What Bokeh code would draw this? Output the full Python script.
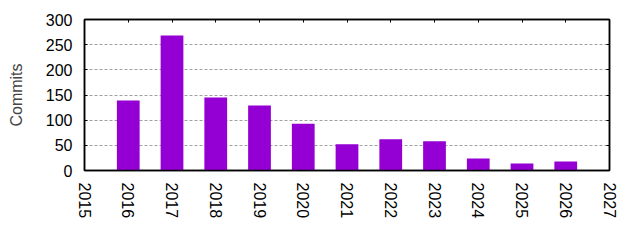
from bokeh.plotting import figure
from bokeh.models import LinearAxis, FixedTicker, Range1d, CustomLabelingPolicy
from bokeh.embed import file_html
from bokeh.resources import INLINE

years = [2016, 2017, 2018, 2019, 2020, 2021, 2022, 2023, 2024, 2025, 2026]
commits = [139, 268, 145, 129, 93, 52, 62, 58, 24, 14, 18]
x_ticks = list(range(2015, 2028))
y_ticks = [0, 50, 100, 150, 200, 250, 300]

FONT = "Liberation Sans"

p = figure(width=640, height=240, output_backend="svg", toolbar_location=None,
           x_range=Range1d(2015, 2027), y_range=Range1d(0, 300),
           x_axis_location=None, y_axis_location=None,
           min_border_left=84, min_border_right=31, min_border_top=19, min_border_bottom=70)
p.outline_line_color = "black"
p.outline_line_width = 1.5
p.background_fill_color = "white"
p.border_fill_color = "white"

p.vbar(x=years, top=commits, width=0.52, bottom=0, fill_color="#9400D3", line_color=None)

p.xgrid.visible = False
p.ygrid.ticker = FixedTicker(ticks=[50, 100, 150, 200, 250])
p.ygrid.grid_line_color = "#a0a0a0"
p.ygrid.grid_line_dash = "3 2"
p.ygrid.grid_line_width = 1

hide_all = CustomLabelingPolicy(code="return new Set()")

def style(ax, size="16px", labels=True):
    ax.axis_line_color = "black"
    ax.axis_line_width = 1.5
    ax.major_tick_line_color = "black"
    ax.major_tick_in = 3
    ax.major_tick_out = 0
    ax.minor_tick_line_color = None
    ax.major_label_text_font = FONT
    ax.major_label_text_font_size = size
    ax.major_label_text_color = "black"
    if not labels:
        ax.major_label_policy = hide_all

left = LinearAxis(ticker=FixedTicker(ticks=y_ticks), axis_label="Commits")
style(left, "16px")
left.major_label_standoff = 12
left.axis_label_text_font = FONT
left.axis_label_text_font_size = "16px"
left.axis_label_text_font_style = "normal"
left.axis_label_standoff = 18
p.add_layout(left, "left")

bottom = LinearAxis(ticker=FixedTicker(ticks=x_ticks))
style(bottom, "16px")
bottom.major_tick_in = 0
bottom.major_label_orientation = "vertical"
bottom.major_label_standoff = 12
p.add_layout(bottom, "below")

right = LinearAxis(ticker=FixedTicker(ticks=y_ticks))
style(right, "4px", labels=False)
right.major_label_standoff = 0
p.add_layout(right, "right")

top = LinearAxis(ticker=FixedTicker(ticks=x_ticks))
style(top, "4px", labels=False)
top.major_label_standoff = 0
p.add_layout(top, "above")

open("out.html", "w").write(file_html(p, INLINE))
